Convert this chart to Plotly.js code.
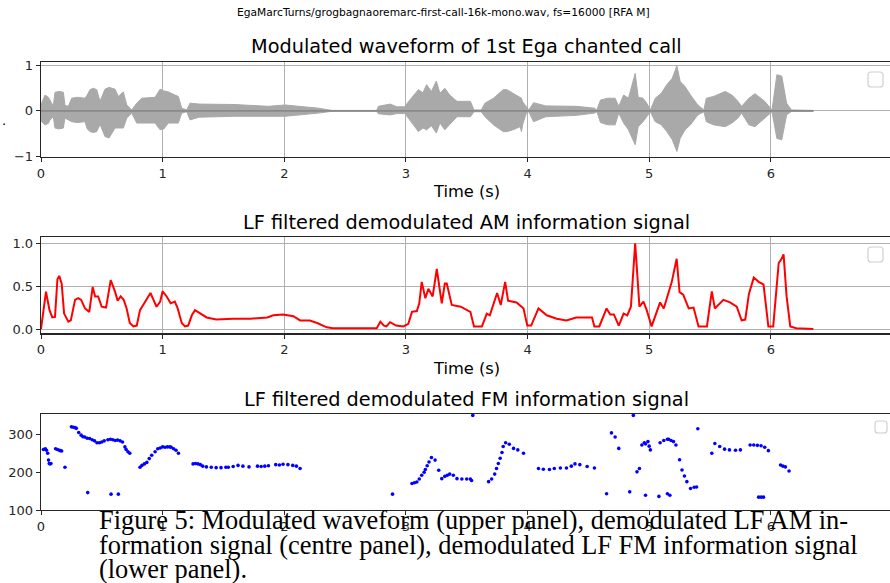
<!DOCTYPE html>
<html>
<head>
<meta charset="utf-8">
<script src="https://cdn.plot.ly/plotly-3.0.1.min.js"></script>
<style>html,body{margin:0;padding:0;background:#fff;}#chart{width:890px;height:583px;}</style>
</head>
<body>
<div id="chart"></div>
<script>
// ---- Data ----
const wfTime  = [0.000,0.005,0.033,0.06,0.074,0.101,0.115,0.150,0.184,0.197,0.225,0.252,0.30,0.362,0.380,0.403,0.430,0.458,0.485,0.526,0.560,0.609,0.636,0.677,0.705,0.746,0.787,0.828,0.938,0.979,1.01,1.047,1.102,1.129,1.157,1.198,1.225,1.30,1.595,1.87,2.006,2.28,2.39,2.76,2.774,2.87,2.925,2.99,3.02,3.103,3.14,3.17,3.21,3.25,3.28,3.32,3.36,3.42,3.53,3.56,3.62,3.65,3.72,3.80,3.83,3.88,3.94,3.95,3.96,3.99,4.01,4.05,4.15,4.40,4.55,4.57,4.60,4.66,4.72,4.75,4.79,4.83,4.885,4.91,4.95,4.98,5.01,5.05,5.10,5.145,5.19,5.228,5.255,5.295,5.34,5.40,5.45,5.47,5.53,5.625,5.68,5.73,5.76,5.82,5.87,5.95,6.01,6.05,6.09,6.13,6.17,6.35];
const wfUpper = [0.02,0.17,0.35,0.30,0.24,0.10,0.41,0.43,0.41,0.12,0.10,0.28,0.30,0.28,0.35,0.47,0.50,0.47,0.21,0.48,0.52,0.48,0.32,0.42,0.13,0.02,0.17,0.28,0.30,0.48,0.44,0.42,0.35,0.32,0.06,0.02,0.17,0.15,0.14,0.10,0.13,0.06,0.01,0.01,0.10,0.15,0.09,0.09,0.20,0.47,0.40,0.58,0.43,0.66,0.39,0.50,0.35,0.21,0.21,0.02,0.02,0.17,0.28,0.47,0.47,0.39,0.28,0.28,0.20,0.10,0.02,0.18,0.11,0.10,0.06,0.02,0.24,0.28,0.28,0.10,0.35,0.28,0.83,0.30,0.28,0.17,0.02,0.28,0.39,0.58,0.72,1.00,0.65,0.54,0.35,0.13,0.02,0.28,0.32,0.43,0.35,0.21,0.10,0.28,0.38,0.21,0.02,0.80,0.77,0.17,0.02,0.01];
const wfLower = [-0.02,-0.24,-0.31,-0.28,-0.20,-0.13,-0.38,-0.40,-0.38,-0.16,-0.20,-0.24,-0.26,-0.24,-0.40,-0.46,-0.48,-0.46,-0.30,-0.57,-0.60,-0.38,-0.38,-0.38,-0.16,-0.05,-0.27,-0.27,-0.27,-0.42,-0.40,-0.27,-0.27,-0.27,-0.05,-0.02,-0.20,-0.14,-0.12,-0.12,-0.12,-0.05,-0.01,-0.01,-0.065,-0.09,-0.06,-0.06,-0.16,-0.46,-0.38,-0.42,-0.33,-0.49,-0.27,-0.42,-0.30,-0.13,-0.13,-0.02,-0.02,-0.13,-0.31,-0.46,-0.46,-0.42,-0.35,-0.46,-0.30,-0.05,-0.02,-0.24,-0.13,-0.10,-0.05,-0.02,-0.26,-0.31,-0.31,-0.05,-0.27,-0.42,-0.75,-0.35,-0.24,-0.13,-0.02,-0.24,-0.31,-0.46,-0.64,-0.90,-0.61,-0.42,-0.31,-0.09,-0.02,-0.24,-0.31,-0.35,-0.27,-0.16,-0.05,-0.31,-0.35,-0.16,-0.02,-0.61,-0.64,-0.09,-0.01,-0.01];
const wfEnd = [0, 6.35];

const amTime = [0,0.041,0.07,0.093,0.115,0.135,0.15,0.17,0.19,0.225,0.245,0.28,0.306,0.33,0.362,0.397,0.425,0.445,0.47,0.499,0.535,0.573,0.61,0.63,0.655,0.68,0.704,0.73,0.76,0.787,0.814,0.87,0.9,0.925,0.95,0.98,1.0,1.033,1.066,1.1,1.124,1.157,1.184,1.21,1.24,1.266,1.31,1.362,1.44,1.58,1.72,1.86,1.91,1.99,2.075,2.13,2.21,2.27,2.35,2.40,2.76,2.79,2.82,2.84,2.87,2.92,2.98,3.02,3.05,3.09,3.11,3.13,3.16,3.185,3.22,3.254,3.295,3.32,3.336,3.377,3.45,3.53,3.56,3.625,3.665,3.69,3.75,3.78,3.816,3.84,3.91,3.967,3.998,4.03,4.09,4.158,4.24,4.32,4.40,4.53,4.55,4.59,4.65,4.68,4.71,4.75,4.79,4.82,4.85,4.885,4.92,4.953,4.98,5.02,5.09,5.12,5.186,5.226,5.25,5.28,5.325,5.365,5.406,5.475,5.515,5.54,5.61,5.665,5.72,5.76,5.79,5.82,5.86,5.90,5.94,5.98,6.02,6.065,6.085,6.105,6.13,6.16,6.21,6.35];
const amVal  = [0,0.435,0.22,0.135,0.14,0.58,0.62,0.53,0.18,0.085,0.10,0.34,0.36,0.34,0.24,0.20,0.49,0.38,0.38,0.26,0.25,0.57,0.43,0.33,0.38,0.34,0.24,0.07,0.03,0.04,0.22,0.36,0.42,0.34,0.26,0.32,0.44,0.38,0.30,0.32,0.24,0.07,0.03,0.04,0.16,0.22,0.18,0.135,0.11,0.12,0.12,0.135,0.16,0.17,0.15,0.10,0.10,0.07,0.02,0.01,0.01,0.085,0.04,0.03,0.08,0.04,0.03,0.06,0.20,0.21,0.30,0.55,0.36,0.47,0.38,0.70,0.30,0.53,0.53,0.28,0.26,0.20,0.03,0.03,0.18,0.16,0.42,0.28,0.55,0.33,0.31,0.24,0.04,0.04,0.24,0.16,0.12,0.10,0.135,0.135,0.03,0.03,0.24,0.17,0.17,0.04,0.18,0.16,0.26,1.0,0.26,0.32,0.22,0.03,0.31,0.24,0.55,0.82,0.43,0.40,0.24,0.25,0.03,0.03,0.44,0.24,0.34,0.31,0.26,0.10,0.11,0.41,0.60,0.55,0.52,0.03,0.03,0.77,0.81,0.87,0.38,0.03,0.01,0.0];

const fmTime = [
  0.02,0.035,0.045,0.055,0.062,0.068,0.075,0.082, 0.12,0.135,0.15,0.16,0.17, 0.197,
  0.25,0.265,0.28,0.29,0.31,0.33,0.345,0.36,0.38,0.40,0.42,0.44,0.46,0.48,0.50,0.52,0.55,0.57,0.59,0.61,0.63,0.65,0.67,0.69,0.70,0.715,0.73,
  0.384,0.576,0.636,
  0.814,0.83,0.85,0.87,0.89,0.91,0.938,0.96,0.98,1.0,1.02,1.04,1.06,1.07,1.09,1.11,1.13,
  1.25,1.27,1.29,1.31,1.33,1.36,1.40,1.44,1.48,1.52,1.54,1.58,1.62,1.66,1.71,1.78,1.81,1.84,1.87,1.93,1.96,1.99,2.03,2.07,2.10,2.13,
  2.89,
  3.05,3.07,3.09,3.11,3.13,3.15,3.16,3.175,3.19,3.21,3.24,3.27,3.295,3.32,3.34,3.36,3.39,3.42,3.46,3.50,3.53,3.54,
  3.55,
  3.68,3.705,3.73,3.745,3.76,3.775,3.79,3.80,3.82,3.85,3.885,3.92,3.967,
  4.09,4.13,4.18,4.22,4.27,4.32,4.36,4.39,4.43,4.49,4.55,
  4.65,4.69,4.72,4.75,4.84,4.87,4.90,4.92,4.94,4.96,4.97,4.97,4.99,5.00,5.01,5.08,
  5.09,5.12,5.15,5.15,5.16,5.17,5.18,5.20,5.22,5.25,5.27,5.29,5.31,5.34,5.37,5.39,
  5.40,
  5.515,5.54,5.58,5.62,5.66,5.71,5.75,
  5.83,5.86,5.89,5.92,5.95,5.98,
  5.90,5.92,5.94,
  6.08,6.10,6.12,6.15];
const fmHz = [
  260,262,258,250,232,223,222,223, 262,260,258,257,256, 213,
  320,319,318,316,305,298,294,293,290,289,286,283,278,278,280,283,286,287,286,284,285,283,280,267,260,254,250,
  146,142,142,
  213,218,222,226,236,245,254,262,264,267,266,267,267,266,262,258,250,
  222,223,222,220,216,214,213,212,212,213,213,215,218,216,214,216,215,216,217,220,219,221,220,218,216,210,
  142,
  170,172,174,182,192,200,207,217,227,239,232,205,183,189,192,195,192,183,182,182,182,178,
  350,
  175,182,195,210,223,237,252,268,278,274,263,259,250,
  210,208,207,210,211,211,216,222,220,215,211,
  143,304,293,263,148,350,201,210,272,278,275,139,281,269,259,136,
  278,284,287,143,287,139,284,281,272,233,206,190,175,157,160,161,
  315,
  250,276,268,261,259,258,259,
  272,272,271,270,266,257,
  134,134,134,
  219,216,214,203];

// ---- Layout helpers (pixel -> paper) ----
const W = 890, H = 583;
const px = x => x / W, py = y => 1 - y / H;
function roundRect(x0, y0, x1, y1, r) {
  const X = v => px(v).toFixed(5), Y = v => py(v).toFixed(5);
  return 'M' + X(x0 + r) + ',' + Y(y0) + ' L' + X(x1 - r) + ',' + Y(y0) +
    ' Q' + X(x1) + ',' + Y(y0) + ' ' + X(x1) + ',' + Y(y0 + r) +
    ' L' + X(x1) + ',' + Y(y1 - r) + ' Q' + X(x1) + ',' + Y(y1) + ' ' + X(x1 - r) + ',' + Y(y1) +
    ' L' + X(x0 + r) + ',' + Y(y1) + ' Q' + X(x0) + ',' + Y(y1) + ' ' + X(x0) + ',' + Y(y1 - r) +
    ' L' + X(x0) + ',' + Y(y0 + r) + ' Q' + X(x0) + ',' + Y(y0) + ' ' + X(x0 + r) + ',' + Y(y0) + ' Z';
}

const dark = '#262626';
const tickFont = {family: 'DejaVu Sans', size: 13, color: dark};
const xTicks = [0,1,2,3,4,5,6];

function xAxis(anchor, grid) {
  return {anchor: anchor, domain: [px(41), 1], range: [0, 6.98], tickvals: xTicks,
    ticktext: xTicks.map(String), ticks: 'outside', ticklen: 4, tickcolor: dark, tickwidth: 1,
    showline: true, linecolor: dark, linewidth: 1.3, mirror: true,
    showgrid: grid, gridcolor: '#b0b0b0', gridwidth: 1, zeroline: false, tickfont: tickFont};
}
function yAxis(anchor, dom, range, vals, texts, grid) {
  return {anchor: anchor, domain: dom, range: range, tickvals: vals, ticktext: texts,
    ticks: 'outside', ticklen: 4, tickcolor: dark, tickwidth: 1,
    showline: true, linecolor: dark, linewidth: 1.3, mirror: false,
    showgrid: grid, gridcolor: '#b0b0b0', gridwidth: 1, zeroline: false, tickfont: tickFont};
}

// ---- Traces ----
const polyX = wfTime.concat(wfTime.slice().reverse());
const polyY = wfUpper.concat(wfLower.slice().reverse());

const traces = [
  {x: polyX, y: polyY, type: 'scatter', mode: 'lines', fill: 'toself',
   fillcolor: '#a9a9a9', line: {color: '#a9a9a9', width: 1}, xaxis: 'x', yaxis: 'y', hoverinfo: 'skip'},
  {x: wfEnd, y: [0, 0], type: 'scatter', mode: 'lines',
   line: {color: '#8a8a8a', width: 1.6}, xaxis: 'x', yaxis: 'y', hoverinfo: 'skip'},
  {x: amTime, y: amVal, type: 'scatter', mode: 'lines',
   line: {color: '#ff0000', width: 2}, xaxis: 'x2', yaxis: 'y2'},
  {x: fmTime, y: fmHz, type: 'scatter', mode: 'markers',
   marker: {color: '#0000ff', size: 3.6}, xaxis: 'x3', yaxis: 'y3'}
];

const ann = (x, y, text, size, family, extra) => Object.assign({
  xref: 'paper', yref: 'paper', x: px(x), y: py(y), text: text, showarrow: false,
  xanchor: 'center', yanchor: 'middle', font: {family: family || 'DejaVu Sans', size: size, color: '#000'}
}, extra || {});

const layout = {
  width: W, height: H, autosize: false, showlegend: false,
  margin: {l: 0, r: 0, t: 0, b: 0, pad: 0},
  paper_bgcolor: '#fff', plot_bgcolor: '#fff',
  xaxis: xAxis('y', true),
  yaxis: yAxis('x', [py(157), py(62)], [-1.022, 1.082], [-1, 0, 1], ['\u22121', '0', '1'], true),
  xaxis2: xAxis('y2', true),
  yaxis2: yAxis('x2', [py(333.3), py(237.3)], [-0.05, 1.07], [0, 0.5, 1], ['0.0', '0.5', '1.0'], true),
  xaxis3: xAxis('y3', false),
  yaxis3: yAxis('x3', [py(510), py(414)], [100, 354], [100, 200, 300], ['100', '200', '300'], false),
  shapes: [
    {type: 'path', xref: 'paper', yref: 'paper', path: roundRect(868, 72, 883, 87, 3), line: {color: '#d0d0d0', width: 1.2}, fillcolor: 'rgba(255,255,255,0.8)'},
    {type: 'path', xref: 'paper', yref: 'paper', path: roundRect(868, 247, 883, 262, 3), line: {color: '#d0d0d0', width: 1.2}, fillcolor: 'rgba(255,255,255,0.8)'},
    {type: 'path', xref: 'paper', yref: 'paper', path: roundRect(875, 421, 887, 433, 3), line: {color: '#d0d0d0', width: 1.2}, fillcolor: 'rgba(255,255,255,0.8)'}
  ],
  annotations: [
    ann(443, 12, 'EgaMarcTurns/grogbagnaoremarc-first-call-16k-mono.wav, fs=16000 [RFA M]', 10.7),
    ann(466, 47, 'Modulated waveform of 1st Ega chanted call', 19.3),
    ann(466, 191, 'Time (s)', 16.3),
    ann(466, 222, 'LF filtered demodulated AM information signal', 19.3),
    ann(466, 368, 'Time (s)', 16.3),
    ann(466, 399, 'LF filtered demodulated FM information signal', 19.3),
    ann(4, 121, '.', 13),
    ann(97, 520, 'Figure 5: Modulated waveform (upper panel), demodulated LF AM in-', 26.4, 'Liberation Serif', {xanchor: 'left'}),
    ann(97, 545, 'formation signal (centre panel), demodulated LF FM information signal', 26.4, 'Liberation Serif', {xanchor: 'left'}),
    ann(97, 569, '(lower panel).', 26.4, 'Liberation Serif', {xanchor: 'left'})
  ]
};

Plotly.newPlot('chart', traces, layout, {displayModeBar: false, staticPlot: true});
</script>
</body>
</html>
